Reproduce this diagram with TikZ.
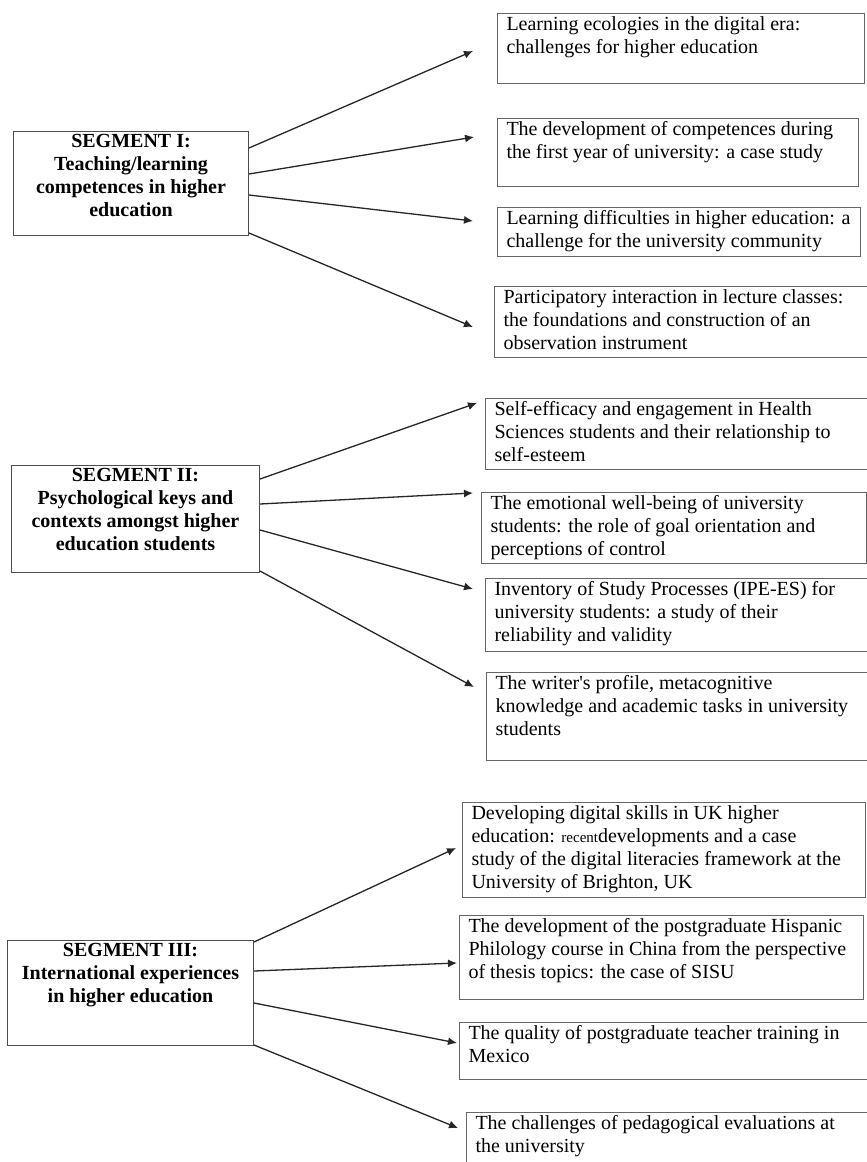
\documentclass[tikz,border=0pt]{standalone}
\usepackage{fontspec}
\setmainfont{Liberation Serif}
\usetikzlibrary{arrows.meta}
\newcommand{\boxtext}[3]{\parbox[t][\dimexpr#2pt-6pt\relax][t]{\dimexpr#1pt-18pt\relax}{\raggedright #3}}
\tikzset{
  topic/.style={draw=black!60, line width=1pt, anchor=north west, inner xsep=9pt, inner ysep=3pt},
  segment/.style={topic, draw=black!70, font=\bfseries\fontsize{20}{23}\selectfont},
  link/.style={-{Latex[length=9pt,width=8pt]}, black!85, line width=1.3pt}
}
\begin{document}
\begin{tikzpicture}[x=1pt, y=-1pt, font=\fontsize{20}{23}\selectfont]
    \useasboundingbox (0,0) rectangle (867,1162);
    % segments
    \node[segment] (seg1) at (13,131) {\boxtext{235}{104}{\centering SEGMENT I:\\ Teaching/learning\\ competences in higher\\ education}};
    \node[segment] (seg2) at (11,465) {\boxtext{248}{107}{\centering SEGMENT II:\\ Psychological keys and\\ contexts amongst higher\\ education students}};
    \node[segment] (seg3) at (7,940) {\boxtext{246}{105}{\centering SEGMENT III:\\ International experiences\\ in higher education}};
    % topics
    \node[topic] (t1) at (497,13) {\boxtext{367}{70}{Learning ecologies in the digital era:\\ challenges for higher education}};
    \node[topic] (t2) at (497,118) {\boxtext{361}{68}{The development of competences during\\ the first year of university: a case study}};
    \node[topic] (t3) at (497,207) {\boxtext{363}{49}{Learning difficulties in higher education: a\\ challenge for the university community}};
    \node[topic] (t4) at (494,286) {\boxtext{378}{71}{Participatory interaction in lecture classes:\\ the foundations and construction of an\\ observation instrument}};
    \node[topic] (t5) at (485,398) {\boxtext{387}{71}{Self-efficacy and engagement in Health\\ Sciences students and their relationship to\\ self-esteem}};
    \node[topic] (t6) at (481,492) {\boxtext{385}{71}{The emotional well-being of university\\ students: the role of goal orientation and\\ perceptions of control}};
    \node[topic] (t7) at (485,578) {\boxtext{387}{73}{Inventory of Study Processes (IPE-ES) for\\ university students: a study of their\\ reliability and validity}};
    \node[topic] (t8) at (486,672) {\boxtext{386}{88}{The writer\textquotesingle s profile, metacognitive\\ knowledge and academic tasks in university\\ students}};
    \node[topic] (t9) at (462,802) {\boxtext{403}{95}{Developing digital skills in UK higher\\ education: {\fontsize{15}{23}\selectfont recent}developments and a case\\ study of the digital literacies framework at the\\ University of Brighton, UK}};
    \node[topic] (t10) at (459,915) {\boxtext{404}{84}{The development of the postgraduate Hispanic\\ Philology course in China from the perspective\\ of thesis topics: the case of SISU}};
    \node[topic] (t11) at (459,1022) {\boxtext{413}{57}{The quality of postgraduate teacher training in\\ Mexico}};
    \node[topic] (t12) at (466,1112) {\boxtext{406}{60}{The challenges of pedagogical evaluations at\\ the university}};
    % links
    \draw[link] ([shift={(0,17)}]seg1.north east) -- ([shift={(-24,38)}]t1.north west);
    \draw[link] ([shift={(0,43)}]seg1.north east) -- ([shift={(-23,19)}]t2.north west);
    \draw[link] ([shift={(0,64)}]seg1.north east) -- ([shift={(-24,14)}]t3.north west);
    \draw[link] ([shift={(0,102)}]seg1.north east) -- ([shift={(-21,41)}]t4.north west);
    \draw[link] ([shift={(0,14)}]seg2.north east) -- ([shift={(-8,5)}]t5.north west);
    \draw[link] ([shift={(0,39)}]seg2.north east) -- ([shift={(-8,1)}]t6.north west);
    \draw[link] ([shift={(0,65)}]seg2.north east) -- ([shift={(-12,11)}]t7.north west);
    \draw[link] ([shift={(0,106)}]seg2.north east) -- ([shift={(-12,15)}]t8.north west);
    \draw[link] ([shift={(0,2)}]seg3.north east) -- ([shift={(-6,46)}]t9.north west);
    \draw[link] ([shift={(0,31)}]seg3.north east) -- ([shift={(-2,48)}]t10.north west);
    \draw[link] ([shift={(0,63)}]seg3.north east) -- ([shift={(-2,21)}]t11.north west);
    \draw[link] ([shift={(0,105)}]seg3.north east) -- ([shift={(-8,16)}]t12.north west);
\end{tikzpicture}
\end{document}
